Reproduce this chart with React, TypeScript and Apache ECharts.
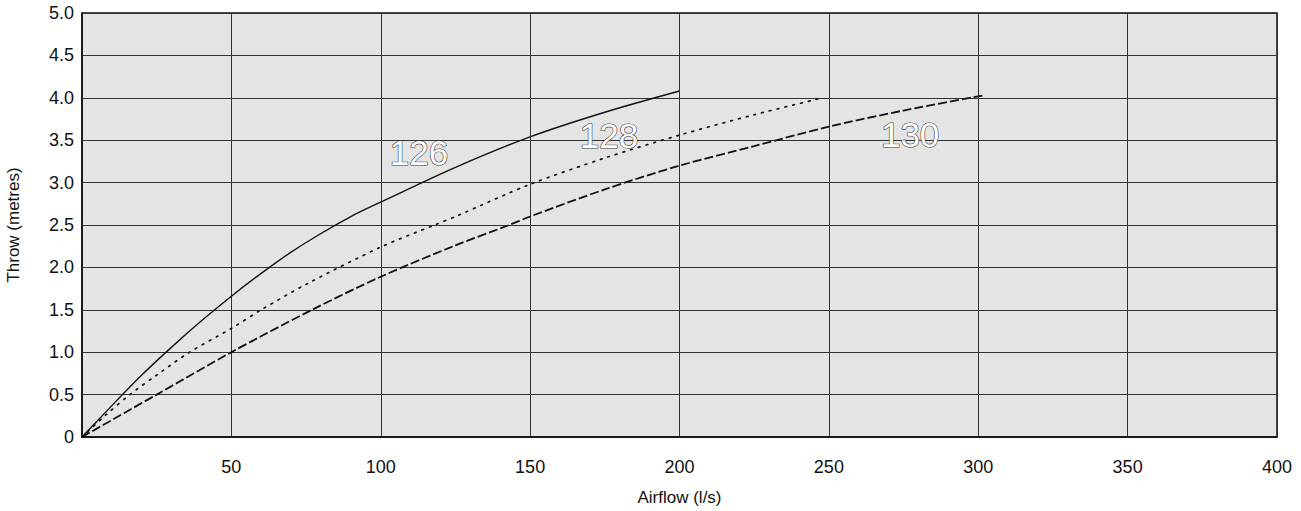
import React, { useEffect, useRef } from "react";
import * as echarts from "echarts";

const xTicks = [0, 50, 100, 150, 200, 250, 300, 350, 400];
const yTicks = [0, 0.5, 1.0, 1.5, 2.0, 2.5, 3.0, 3.5, 4.0, 4.5, 5.0];

const s126X = [0, 10, 20, 30, 40, 50, 60, 70, 80, 90, 100, 125, 150, 175, 200];
const s126Y = [0, 0.37, 0.73, 1.06, 1.37, 1.66, 1.93, 2.18, 2.4, 2.6, 2.77, 3.18, 3.54, 3.83, 4.08];

const s128X = [0, 8, 16, 25, 36, 50, 60, 75, 100, 118, 125, 150, 175, 200, 225, 248];
const s128Y = [0, 0.26, 0.5, 0.73, 1.0, 1.28, 1.5, 1.8, 2.24, 2.5, 2.6, 2.98, 3.29, 3.56, 3.8, 4.0];

const s130X = [0, 25, 50, 77, 100, 125, 143, 150, 175, 200, 225, 250, 275, 302];
const s130Y = [0, 0.5, 1.0, 1.5, 1.89, 2.26, 2.5, 2.6, 2.92, 3.2, 3.43, 3.66, 3.85, 4.03];

const labelNames = ["126", "128", "130"];
const labelX = [112.8, 176.4, 277.2];
const labelY = [3.35, 3.55, 3.57];

const zip = (xs: number[], ys: number[]) => xs.map((x, i) => [x, ys[i]]);

export default function App() {
  const ref = useRef<HTMLDivElement>(null);
  useEffect(() => {
    document.body.style.margin = "0";
    const chart = echarts.init(ref.current!, undefined, { renderer: "svg" });
    const font = "Liberation Sans, Arial, sans-serif";
    chart.setOption({
      animation: false,
      backgroundColor: "#ffffff",
      textStyle: { fontFamily: font },
      grid: {
        left: 82,
        right: 24,
        top: 13,
        bottom: 74,
        outerBoundsMode: "none",
        containLabel: false,
        show: true,
        backgroundColor: "#e4e4e4",
        borderColor: "#111",
        borderWidth: 1.5,
      },
      xAxis: {
        type: "value",
        min: 0,
        max: 400,
        interval: 50,
        name: "Airflow (l/s)",
        nameLocation: "middle",
        nameGap: 52,
        nameTextStyle: { fontSize: 17, color: "#111", fontFamily: font },
        axisLine: { show: true, lineStyle: { color: "#111", width: 1.5 } },
        axisTick: { show: false },
        axisLabel: {
          fontSize: 18,
          color: "#111",
          margin: 21,
          fontFamily: font,
          formatter: (v: number) => (v === 0 ? "" : String(v)),
        },
        splitLine: { show: true, lineStyle: { color: "#333", width: 1 } },
      },
      yAxis: {
        type: "value",
        min: 0,
        max: 5,
        interval: 0.5,
        name: "Throw (metres)",
        nameLocation: "middle",
        nameGap: 60,
        nameTextStyle: { fontSize: 17, color: "#111", fontFamily: font },
        axisLine: { show: true, lineStyle: { color: "#111", width: 1.5 } },
        axisTick: { show: false },
        axisLabel: {
          fontSize: 18,
          color: "#111",
          margin: 8,
          fontFamily: font,
          formatter: (v: number) => (v === 0 ? "0" : v.toFixed(1)),
        },
        splitLine: { show: true, lineStyle: { color: "#333", width: 1 } },
      },
      series: [
        {
          type: "line",
          name: "126",
          data: zip(s126X, s126Y),
          smooth: 0.3,
          showSymbol: false,
          lineStyle: { color: "#111", width: 1.4, type: "solid" },
        },
        {
          type: "line",
          name: "128",
          data: zip(s128X, s128Y),
          smooth: 0.3,
          showSymbol: false,
          lineStyle: { color: "#111", width: 1.7, type: [1.7, 6.3], cap: "round" },
        },
        {
          type: "line",
          name: "130",
          data: zip(s130X, s130Y),
          smooth: 0.3,
          showSymbol: false,
          lineStyle: { color: "#111", width: 1.8, type: [9, 3] },
        },
      ],
    });
    const graphics = labelNames.map((t, i) => {
      const p = chart.convertToPixel({ gridIndex: 0 }, [labelX[i], labelY[i]]) as number[];
      return {
        type: "text",
        x: p[0],
        y: p[1],
        silent: true,
        z: 100,
        style: {
          text: t,
          x: 0,
          y: 0,
          align: "center",
          verticalAlign: "middle",
          font: `35px ${font}`,
          fill: "#ffffff",
          stroke: "#3a3a3a",
          lineWidth: 1.2,
        },
      };
    });
    chart.setOption({ graphic: graphics });
    return () => chart.dispose();
  }, []);
  return <div ref={ref} style={{ width: 1301, height: 511 }} />;
}
